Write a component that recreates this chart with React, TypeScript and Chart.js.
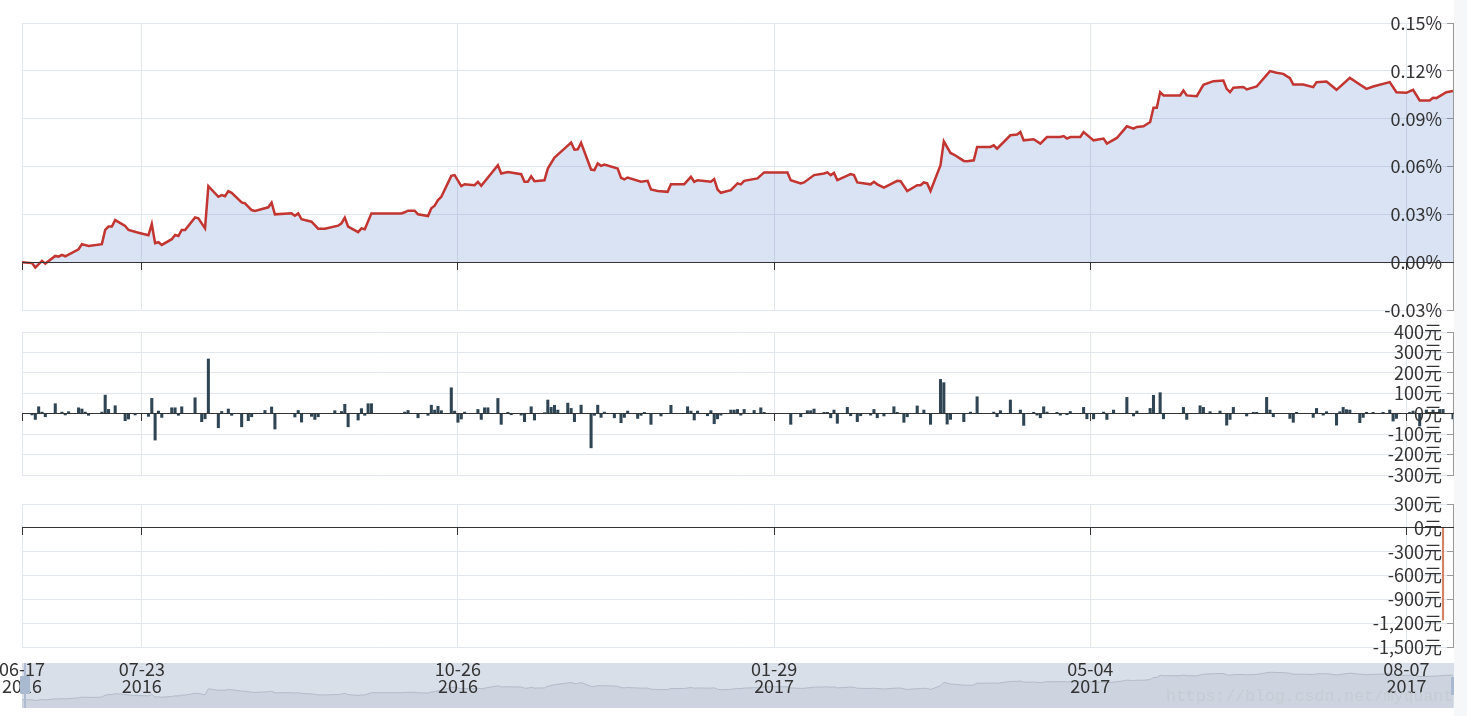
import React, { useEffect, useRef } from 'react';
import { Chart, registerables } from 'chart.js';

Chart.register(...registerables);

// ---------- data ----------
// x values are calendar days counted from 2016-06-17
const xMin = 0;
const xMax = 430;
const dateTickDays = [0, 36, 131, 226, 321, 416];
const dateTickLabels = [
  ['06-17', '2016'],
  ['07-23', '2016'],
  ['10-26', '2016'],
  ['01-29', '2017'],
  ['05-04', '2017'],
  ['08-07', '2017'],
];

// cumulative return (%)
const retDays = [
  0, 3, 4, 6, 7, 10, 11, 12, 13, 17, 18, 20, 24, 25, 26, 27, 28, 31, 32, 35, 38, 39, 40, 41, 42, 45, 46, 47, 48, 49,
  52, 53, 55, 56, 59, 60, 61, 62, 63, 66, 67, 69, 70, 74, 75, 76, 81, 82, 83, 84, 87, 89, 91, 95, 96, 97, 98, 101, 102, 103,
  105, 114, 115, 116, 118, 119, 122, 123, 124, 125, 126, 129, 130, 132, 133, 136, 137, 138, 143, 144, 146, 150, 151, 152, 153, 154, 157, 158, 160, 163,
  165, 166, 167, 168, 171, 172, 173, 174, 175, 179, 180, 181, 182, 186, 188, 189, 191, 194, 195, 199, 201, 202, 203, 207, 208, 209, 210, 213, 215, 216,
  217, 221, 223, 230, 231, 234, 235, 238, 241, 242, 243, 244, 245, 249, 250, 251, 255, 256, 257, 259, 263, 264, 266, 269, 270, 271, 272, 273, 276, 277,
  279, 280, 283, 284, 286, 287, 291, 292, 293, 297, 299, 300, 301, 304, 306, 308, 312, 313, 314, 315, 318, 319, 322, 325, 326, 329, 332, 334, 335, 337,
  339, 340, 341, 342, 343, 348, 349, 350, 353, 355, 358, 361, 362, 363, 364, 367, 368, 371, 375, 377, 379, 381, 382, 385, 388, 389, 392, 395, 399, 402,
  404, 406, 411, 413, 416, 418, 420, 423, 424, 425, 428, 430,
];
const retValues = [
  0.0, -0.0006, -0.0034, 0.0008, -0.0009, 0.0039, 0.0035, 0.0046, 0.0037, 0.0081, 0.0113, 0.0102, 0.0113, 0.0202, 0.0223, 0.0223, 0.0264, 0.0227, 0.0202, 0.0185,
  0.0169, 0.0239, 0.0119, 0.0125, 0.0108, 0.0144, 0.0171, 0.0164, 0.0202, 0.0202,
  0.0281, 0.0275, 0.0212, 0.0477, 0.041, 0.0421, 0.0414, 0.0446, 0.0435, 0.0375, 0.0369, 0.0327, 0.0321, 0.0344, 0.0373, 0.03, 0.0306, 0.0291, 0.0306, 0.0269,
  0.0254, 0.021, 0.021, 0.0229, 0.0244, 0.0279, 0.0223, 0.0188, 0.0212, 0.0206,
  0.0306, 0.0306, 0.0313, 0.0323, 0.0323, 0.03, 0.0289, 0.0338, 0.0354, 0.0389, 0.041, 0.0541, 0.0546, 0.0477, 0.0489, 0.0483, 0.0504, 0.0479, 0.0608, 0.0556,
  0.0566, 0.0552, 0.0504, 0.0504, 0.0539, 0.0508, 0.0514, 0.0587, 0.0656, 0.0712,
  0.075, 0.0706, 0.0708, 0.0748, 0.0581, 0.0577, 0.0619, 0.0604, 0.0612, 0.0587, 0.0529, 0.0519, 0.0531, 0.0504, 0.051, 0.0456, 0.0446, 0.0441, 0.0489, 0.0489,
  0.0535, 0.0504, 0.0514, 0.0504, 0.0521, 0.0456, 0.0435, 0.0452, 0.0494, 0.0488,
  0.051, 0.0525, 0.0563, 0.0563, 0.0514, 0.0494, 0.05, 0.0546, 0.0556, 0.0563, 0.0546, 0.056, 0.0514, 0.0552, 0.0546, 0.05, 0.0488, 0.0504, 0.0488, 0.0467,
  0.051, 0.0508, 0.0446, 0.0483, 0.0483, 0.05, 0.0494, 0.0446, 0.0608, 0.0758,
  0.0685, 0.0675, 0.0635, 0.0633, 0.0639, 0.0723, 0.0723, 0.0733, 0.0712, 0.0796, 0.08, 0.0816, 0.0764, 0.0771, 0.0744, 0.0785, 0.0785, 0.0791, 0.0775, 0.0785,
  0.0785, 0.0816, 0.0764, 0.0775, 0.0744, 0.0779, 0.0852, 0.0837, 0.0848, 0.0852,
  0.0879, 0.0969, 0.0969, 0.1066, 0.1046, 0.1046, 0.1077, 0.1046, 0.1041, 0.1112, 0.1135, 0.1139, 0.1087, 0.1066, 0.1094, 0.1098, 0.1083, 0.1102, 0.1198, 0.1188,
  0.1181, 0.1154, 0.1114, 0.1114, 0.1098, 0.1129, 0.1133, 0.1081, 0.1156, 0.1114,
  0.1087, 0.1102, 0.1129, 0.1066, 0.1062, 0.1081, 0.1014, 0.1014, 0.1031, 0.1029, 0.1066, 0.1073,
];
const retTicks = [-0.03, 0, 0.03, 0.06, 0.09, 0.12, 0.15];
const retTickLabels = ['-0.03%', '0.00%', '0.03%', '0.06%', '0.09%', '0.12%', '0.15%'];

// daily profit and loss (元)
const pnlDays = [
  3, 4, 5, 6, 7, 10, 12, 13, 14, 17, 18, 19, 20, 24, 25, 26, 28, 31, 32, 34, 38, 39, 40, 41, 42, 45, 46, 47, 48, 52,
  54, 55, 56, 59, 60, 62, 63, 66, 68, 69, 73, 75, 76, 82, 83, 84, 87, 88, 89, 94, 96, 97, 98, 101, 102, 103, 104, 105, 115, 116,
  119, 122, 123, 124, 125, 126, 129, 130, 131, 132, 133, 137, 138, 139, 140, 143, 144, 146, 147, 150, 151, 153, 154, 157, 158, 159, 160, 161, 164, 165,
  166, 168, 171, 172, 173, 174, 175, 178, 180, 181, 182, 185, 186, 187, 189, 192, 195, 200, 201, 202, 203, 206, 207, 208, 209, 210, 213, 214, 215, 216,
  217, 220, 222, 223, 231, 234, 236, 237, 238, 241, 242, 243, 244, 245, 248, 249, 251, 252, 255, 256, 257, 259, 262, 263, 265, 266, 269, 271, 273, 276,
  277, 278, 279, 283, 285, 287, 292, 293, 294, 297, 300, 301, 304, 305, 306, 307, 308, 311, 312, 314, 315, 319, 320, 322, 325, 326, 328, 332, 334, 335,
  339, 340, 342, 343, 349, 350, 354, 355, 357, 360, 362, 363, 364, 368, 370, 371, 374, 375, 376, 381, 382, 383, 388, 389, 391, 392, 395, 396, 397, 398,
  399, 402, 403, 404, 406, 409, 411, 412, 413, 417, 418, 420, 422, 424, 426, 427, 430,
];
const pnlValues = [
  -6, -28, 34, 8, -15, 49, 8, -6, 10, 29, 23, 8, -8, 8, 91, 21, 39, -34, -26, -6, -13, 75, -129, 13, -18, 29, 29, -8, 34, 78,
  -39, -25, 268, -69, 11, 23, -8, -64, -34, -15, 16, 33, -75, -16, 16, -41, -13, -28, -15, 15, 11, 46, -64, -31, 25, -8, 49, 49, 8, 16,
  -20, -8, 42, 18, 36, 15, 127, 13, -42, -26, 8, 21, -28, 29, 29, 75, -52, 7, -5, -7, -39, 34, -31, 5, 67, 31, 41, 18, 52, 26,
  -39, 42, -167, -8, 42, -18, 8, -20, -44, -18, 13, -23, -8, 7, -52, -11, 41, 34, 13, -31, 13, -10, 15, -49, -25, -7, 18, 18, 21, -7,
  21, 16, 29, 7, -52, -15, 15, 15, 23, 7, 7, -20, 18, -47, 31, -10, -39, -10, -7, 21, -20, -11, 34, 7, -42, -15, 38, 18, -52, 168,
  152, -51, -28, -39, 8, 83, 8, -15, 15, 67, 18, -57, 7, -7, -20, 34, 8, 7, -7, -5, 11, 31, -25, -25, 8, -28, 18, 80, -11, 13,
  26, 90, 103, -25, 31, -28, 39, 31, 10, 13, -56, -28, 31, -11, 7, 7, 80, 18, -15, -23, -42, 7, -18, 26, -7, 10, -56, 10, 31, 20,
  18, -44, -18, 7, 7, 7, 18, -36, -23, 7, 13, -60, 18, 18, 21, 21, -25,
];
const pnlTicks = [-300, -200, -100, 0, 100, 200, 300, 400];
const pnlTickLabels = ['-300元', '-200元', '-100元', '0元', '100元', '200元', '300元', '400元'];

// third panel (元)
const ddDays = [427];
const ddValues = [-1160];
const ddTicks = [-1500, -1200, -900, -600, -300, 0, 300];
const ddTickLabels = ['-1,500元', '-1,200元', '-900元', '-600元', '-300元', '0元', '300元'];

// ---------- styling ----------
const FONT = "'Noto Sans CJK SC', 'Noto Sans', sans-serif";
const GRID = '#e2e7ee';
const TEXT = '#333';

const toPoints = (xs: number[], ys: number[]) => xs.map((x, i) => ({ x, y: ys[i] }));

function zeroXAxis() {
  return {
    type: 'linear',
    min: xMin,
    max: xMax,
    offset: false,
    position: { y: 0 },
    afterBuildTicks: (a: any) => {
      a.ticks = dateTickDays.map((v) => ({ value: v }));
    },
    afterFit: (a: any) => {
      a.height = 0;
      a.paddingLeft = 0;
      a.paddingRight = 0;
    },
    ticks: { display: false },
    grid: { color: GRID, tickColor: '#333', tickLength: 7, drawTicks: true, offset: false },
    border: { color: '#333', width: 1, z: 1 },
  };
}

function rightYAxis(ticksArr: number[], labels: string[]) {
  return {
    type: 'linear',
    position: 'right',
    min: ticksArr[0],
    max: ticksArr[ticksArr.length - 1],
    afterBuildTicks: (a: any) => {
      a.ticks = ticksArr.map((v) => ({ value: v }));
    },
    afterFit: (a: any) => {
      a.width = 0;
    },
    ticks: {
      mirror: true,
      autoSkip: false,
      padding: -11,
      z: 1,
      color: TEXT,
      font: { family: FONT, size: 18 },
      callback: (_v: any, i: number) => labels[i],
    },
    grid: { color: GRID, tickColor: '#999', tickLength: -6, drawTicks: true },
    border: { color: '#999', width: 1 },
  };
}

const basePlugins = { legend: { display: false }, tooltip: { enabled: false } };

export default function App() {
  const c1 = useRef<HTMLCanvasElement>(null);
  const c2 = useRef<HTMLCanvasElement>(null);
  const c3 = useRef<HTMLCanvasElement>(null);
  const c4 = useRef<HTMLCanvasElement>(null);

  useEffect(() => {
    document.body.style.margin = '0';
    const charts: Chart[] = [];

    charts.push(
      new Chart(c1.current!, {
        type: 'line',
        data: {
          datasets: [
            {
              data: toPoints(retDays, retValues),
              borderColor: '#c23531',
              borderWidth: 2.5,
              pointRadius: 0,
              tension: 0,
              fill: 'origin',
              backgroundColor: 'rgba(70,115,195,0.2)',
            },
          ],
        },
        options: {
          responsive: false,
          animation: false,
          events: [],
          layout: { padding: { left: 22, right: 14, top: 23, bottom: 12 } },
          plugins: basePlugins,
          scales: { x: zeroXAxis(), y: rightYAxis(retTicks, retTickLabels) } as any,
        },
      } as any)
    );

    charts.push(
      new Chart(c2.current!, {
        type: 'bar',
        data: {
          datasets: [
            {
              data: toPoints(pnlDays, pnlValues),
              backgroundColor: '#2f4554',
              barThickness: 2.4,
            },
          ],
        },
        options: {
          responsive: false,
          animation: false,
          events: [],
          layout: { padding: { left: 22, right: 14, top: 16, bottom: 15 } },
          plugins: basePlugins,
          scales: { x: zeroXAxis(), y: rightYAxis(pnlTicks, pnlTickLabels) } as any,
        },
      } as any)
    );

    charts.push(
      new Chart(c3.current!, {
        type: 'bar',
        data: {
          datasets: [
            {
              data: toPoints(ddDays, ddValues),
              backgroundColor: '#d48265',
              barThickness: 1.5,
              xAxisID: 'x',
            },
          ],
        },
        options: {
          responsive: false,
          animation: false,
          events: [],
          layout: { padding: { left: 22, right: 14, top: 16, bottom: 0 } },
          plugins: basePlugins,
          scales: {
            x: {
              type: 'linear',
              min: xMin,
              max: xMax,
              offset: false,
              position: 'bottom',
              afterBuildTicks: (a: any) => {
                a.ticks = dateTickDays.map((v) => ({ value: v }));
              },
              afterFit: (a: any) => {
                a.height = 69;
                a.paddingLeft = 0;
                a.paddingRight = 0;
              },
              ticks: {
                autoSkip: false,
                maxRotation: 0,
                minRotation: 0,
                padding: 13,
                color: TEXT,
                font: { family: FONT, size: 18, lineHeight: 0.98 },
                callback: (_v: any, i: number) => dateTickLabels[i],
              },
              grid: { drawOnChartArea: false, drawTicks: false, offset: false },
              border: { display: false },
            },
            xz: zeroXAxis(),
            y: rightYAxis(ddTicks, ddTickLabels),
          } as any,
        },
      } as any)
    );

    charts.push(
      new Chart(c4.current!, {
        type: 'line',
        data: {
          datasets: [
            {
              data: toPoints(retDays, retValues),
              borderColor: '#b2bbc9',
              borderWidth: 1,
              pointRadius: 0,
              tension: 0,
              fill: 'start',
              backgroundColor: '#cdd4df',
            },
          ],
        },
        options: {
          responsive: false,
          animation: false,
          events: [],
          layout: { padding: { left: 22, right: 14, top: 8, bottom: 8 } },
          plugins: basePlugins,
          scales: {
            x: { type: 'linear', display: false, min: xMin, max: xMax },
            y: { type: 'linear', display: false, min: -0.036, max: 0.16 },
          },
        },
      } as any)
    );

    return () => charts.forEach((c) => c.destroy());
  }, []);

  const abs = (s: React.CSSProperties): React.CSSProperties => ({ position: 'absolute', ...s });

  return (
    <div style={{ position: 'fixed', left: 0, top: 0, width: 1467, height: 716, background: '#fff', overflow: 'hidden' }}>
      <div style={abs({ left: 1454, top: 0, width: 13, height: 716, background: '#f6f7f9', zIndex: 0 })} />
      <div style={abs({ left: 22, top: 663, width: 1432, height: 45, background: '#d9dfe9', zIndex: 1 })} />
      <canvas ref={c4} width={1467} height={61} style={abs({ left: 0, top: 655, zIndex: 2 })} />
      <canvas ref={c1} width={1467} height={322} style={abs({ left: 0, top: 0, zIndex: 3 })} />
      <canvas ref={c2} width={1467} height={174} style={abs({ left: 0, top: 316, zIndex: 3 })} />
      <canvas ref={c3} width={1467} height={228} style={abs({ left: 0, top: 488, zIndex: 3 })} />
      <div style={abs({ left: 24, top: 663, width: 2, height: 45, background: '#aebbd0', zIndex: 4 })} />
      <div style={abs({ left: 20, top: 676, width: 10, height: 18, background: '#a9b9cf', borderRadius: 1, zIndex: 4 })} />
      <div style={abs({ left: 1451, top: 677, width: 3, height: 18, background: '#a9b9cf', zIndex: 4 })} />
      <div
        style={abs({
          left: 1166,
          top: 687,
          fontFamily: "'Liberation Mono', monospace",
          fontSize: 16.5,
          lineHeight: '20px',
          color: '#c6ccd4',
          whiteSpace: 'nowrap',
          zIndex: 4,
        })}
      >
        https://blog.csdn.net/myquant
      </div>
    </div>
  );
}
